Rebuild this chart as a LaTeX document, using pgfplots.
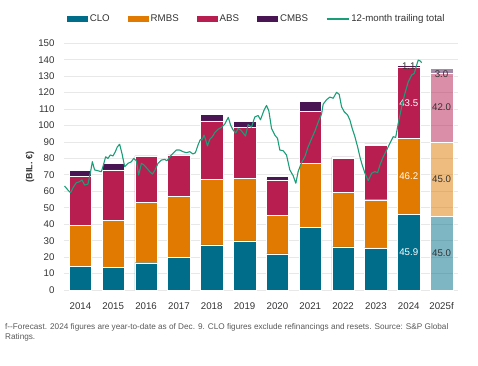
\documentclass[border=0pt]{standalone}
\usepackage{fontspec}
\setmainfont{Liberation Sans}
\usepackage{pgfplots}
\pgfplotsset{compat=1.18}
\definecolor{clo}{HTML}{006D8A}
\definecolor{rmbs}{HTML}{E07A00}
\definecolor{abs}{HTML}{B81E50}
\definecolor{cmbs}{HTML}{4A1553}
\definecolor{lc}{HTML}{1A9E77}
\definecolor{gridc}{HTML}{E8E8E8}
\definecolor{txt}{HTML}{333333}
\begin{document}
\begin{tikzpicture}
\pgfplotsset{
  base/.style={width=394pt, height=246.7pt, scale only axis,
    xmin=-0.5, xmax=11.5, ymin=0, ymax=150},
  barimg/.style={legend image code/.code={\fill[##1,draw=none] (0pt,-3pt) rectangle (21pt,3pt);}},
}
\path[use as bounding box] (-64pt,-75pt) rectangle (414pt,290pt);
\begin{axis}[base,
  ybar stacked, bar width=22.5pt,
  axis line style={draw=none}, tick style={draw=none},
  ymajorgrids, grid style={gridc, line width=0.9pt},
  ytick={0,10,...,150},
  xtick={0,...,11},
  xticklabels={2014,2015,2016,2017,2018,2019,2020,2021,2022,2023,2024,2025f},
  /pgf/number format/assume math mode=true,
  tick label style={font=\fontsize{9.7}{11}\selectfont, text=txt},
  yticklabel style={xshift=-6pt},
  xticklabel style={yshift=-9pt},
  legend style={at={(axis description cs:0.489,1)}, anchor=center, yshift=24.3pt,
    draw=none, fill=none, legend columns=-1,
    font=\fontsize{9.7}{11}\selectfont, text=txt,
    /tikz/every even column/.append style={column sep=16pt}},
]
\addplot[fill=clo, draw=white, line width=0.4pt, barimg] coordinates {(0,14.2) (1,13.8) (2,16.6) (3,19.7) (4,27.4) (5,29.8) (6,21.9) (7,38.3) (8,26.3) (9,25.7) (10,45.9)};
\addplot[fill=rmbs, draw=white, line width=0.4pt, barimg] coordinates {(0,25.3) (1,28.4) (2,36.5) (3,37.1) (4,39.9) (5,38.1) (6,23.5) (7,38.9) (8,33.1) (9,29.2) (10,46.2)};
\addplot[fill=abs, draw=white, line width=0.4pt, barimg] coordinates {(0,29.8) (1,30.8) (2,28.0) (3,24.9) (4,35.5) (5,30.8) (6,21.5) (7,31.6) (8,20.7) (9,32.9) (10,43.5)};
\addplot[fill=cmbs, draw=white, line width=0.4pt, barimg] coordinates {(0,3.5) (1,3.8) (2,0.4) (3,0.4) (4,4.0) (5,3.9) (6,2.0) (7,5.7) (8,0.8) (9,1.0) (10,1.1)};
\addlegendimage{legend image code/.code={\draw[lc, line width=1.1pt] (0pt,0pt) -- (22pt,0pt);}}
\legend{CLO,RMBS,ABS,CMBS,12-month trailing total}
\end{axis}
\begin{axis}[base, hide axis, ybar stacked, bar width=22.5pt]
\addplot[fill=clo, fill opacity=0.5, draw=white, line width=0.4pt] coordinates {(11,45)};
\addplot[fill=rmbs, fill opacity=0.5, draw=white, line width=0.4pt] coordinates {(11,45)};
\addplot[fill=abs, fill opacity=0.5, draw=white, line width=0.4pt] coordinates {(11,42)};
\addplot[fill=cmbs, fill opacity=0.5, draw=white, line width=0.4pt] coordinates {(11,3)};
\end{axis}
\begin{axis}[base, hide axis]
\node[text=white, font=\fontsize{9.7}{11}\selectfont] at (axis cs:10,22.95) {45.9};
\node[text=white, font=\fontsize{9.7}{11}\selectfont] at (axis cs:10,69) {46.2};
\node[text=white, font=\fontsize{9.7}{11}\selectfont] at (axis cs:10,113.9) {43.5};
\node[text=txt, font=\fontsize{9.7}{11}\selectfont] at (axis cs:10,136.2) {1.1};
\node[text=txt, font=\fontsize{9.7}{11}\selectfont] at (axis cs:11,22.7) {45.0};
\node[text=txt, font=\fontsize{9.7}{11}\selectfont] at (axis cs:11,67.5) {45.0};
\node[text=txt, font=\fontsize{9.7}{11}\selectfont] at (axis cs:11,111) {42.0};
\node[text=txt, font=\fontsize{9.7}{11}\selectfont] at (axis cs:11,131) {3.0};
\addplot[lc, line width=1.1pt, line join=round] table {
x y
-0.482 63.2
-0.381 60.8
-0.299 59.2
-0.207 62.8
-0.125 65.2
-0.024 65.9
0.046 66.9
0.128 63.8
0.229 64.4
0.302 71
0.363 78
0.433 73
0.534 72.5
0.637 71.9
0.686 75
0.768 81
0.838 80
0.912 82.1
0.991 81.5
1.064 84.1
1.125 87.1
1.195 88.6
1.265 83.1
1.348 75
1.448 77
1.552 78
1.622 80
1.704 78.6
1.774 69.9
1.857 77
1.936 76
2.027 74
2.110 72
2.192 70.5
2.262 72.5
2.363 77
2.466 79
2.567 79.4
2.637 78.6
2.720 81
2.820 83.1
2.924 85.1
3.024 85.1
3.125 84.1
3.229 83.5
3.329 84.1
3.430 82.7
3.503 83.5
3.582 88.2
3.655 91.6
3.704 91.2
3.765 94.2
3.817 91.2
3.869 87.6
3.939 91.6
4.021 93.2
4.091 95.7
4.192 97.7
4.296 98.9
4.396 100.9
4.503 105
4.579 100
4.649 97.3
4.732 95.5
4.802 98.2
4.884 97.3
4.954 95.5
5.027 93.6
5.107 100.5
5.210 99
5.311 105.2
5.412 106.1
5.485 103.5
5.585 109
5.668 112.2
5.738 109
5.820 98.3
5.921 94.2
6.003 92.2
6.073 85.1
6.174 84.7
6.277 82.1
6.378 73
6.479 69.5
6.561 64.9
6.631 72
6.735 77.5
6.835 81
6.936 87.1
7.040 92
7.140 96.5
7.241 102
7.345 107
7.393 113
7.497 115.7
7.598 117.3
7.698 116.6
7.802 120.2
7.881 119
7.954 111.4
8.034 108.4
8.137 106.4
8.207 103.4
8.277 98.3
8.360 93.2
8.442 87.1
8.512 81
8.582 76
8.665 71
8.765 66.5
8.869 71
8.970 72
9.052 71.3
9.122 76
9.223 81
9.326 85.1
9.427 89.2
9.527 93.2
9.601 92.8
9.680 101.3
9.784 111.4
9.884 119.6
9.985 126.6
10.088 130.7
10.168 131.7
10.241 136.8
10.290 139.8
10.341 139.4
10.393 138.2
};
\end{axis}
\node[rotate=90, font=\bfseries\fontsize{9}{11}\selectfont, text=txt] at (-34pt,123pt) {(BIL. €)};
\node[anchor=north west, align=left, inner sep=0pt, font=\fontsize{8.2}{10}\selectfont, text=black!65] at (-59pt,-33pt) {f-{}-Forecast. 2024 figures are year-to-date as of Dec. 9. CLO figures exclude refinancings and resets. Source: S\&P Global\\Ratings.};
\end{tikzpicture}
\end{document}
